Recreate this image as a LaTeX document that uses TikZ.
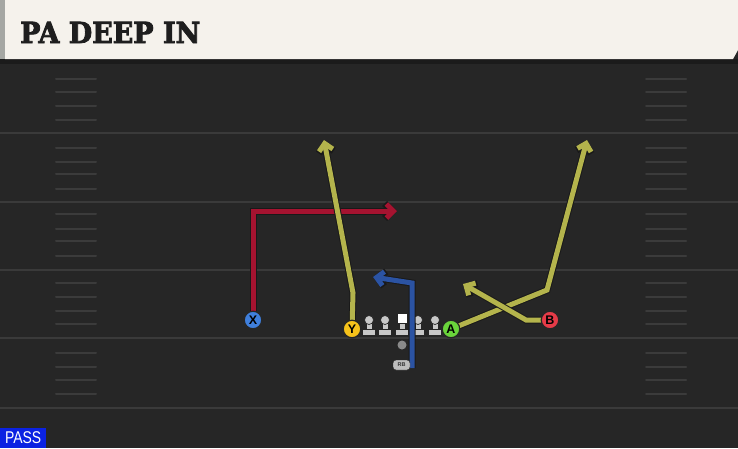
\documentclass[tikz,border=0pt]{standalone}
\usepackage{fontspec}
\usetikzlibrary{arrows.meta}
\newfontfamily\titlefont{DejaVu Serif}[BoldFeatures={FakeBold=3}]
\newfontfamily\labelfont{Liberation Sans}
\definecolor{fieldbg}{HTML}{262626}
\definecolor{yardc}{HTML}{3A3A3A}
\definecolor{hashc}{HTML}{3B3B3B}
\definecolor{cream}{HTML}{F5F2EC}
\definecolor{headgray}{HTML}{A5A7A3}
\definecolor{shadowc}{HTML}{1B1B1B}
\definecolor{titlec}{HTML}{1E1E1E}
\definecolor{passblue}{HTML}{0B22E2}
\definecolor{redr}{HTML}{A51330}
\definecolor{yelr}{HTML}{B4B44C}
\definecolor{bluer}{HTML}{2B53A3}
\definecolor{xblue}{HTML}{3F7FDC}
\definecolor{yyel}{HTML}{F6C21A}
\definecolor{agreen}{HTML}{6AD43B}
\definecolor{bred}{HTML}{E63B48}
\definecolor{lmgray}{HTML}{C8C8C8}
\definecolor{qbgray}{HTML}{8A8A8A}
\definecolor{rbgray}{HTML}{BDBDBD}
\pgfdeclarelayer{bg}
\pgfsetlayers{bg,main}
\begin{document}
\begin{tikzpicture}[x=1pt,y=-1pt,
  player/.style={circle, draw=black!85, line width=1.2pt, minimum size=17.5pt, inner sep=0pt,
    font=\labelfont\bfseries\fontsize{12.5}{12.5}\selectfont, text=black},
  route/.style={draw=#1, line width=5pt, -{Straight Barb[length=7pt,width=14pt]},
    preaction={draw=black!90, line width=7pt, -{Straight Barb[length=7.4pt,width=15pt]}}},
  yard/.style={draw=yardc, line width=2.5pt},
  hash/.style={draw=hashc, line width=2pt, line cap=round},
  lmpart/.style={draw=black!85, fill=lmgray, line width=0.7pt},
  lman/.pic={
    \filldraw[lmpart] (-3,-4) rectangle (3,-12);
    \filldraw[lmpart] (-6.5,0) rectangle (6.5,-6);
    \filldraw[lmpart] (0,-15) circle (4.5);
  },
  lmcenter/.pic={
    \filldraw[lmpart] (-3,-4) rectangle (3,-12);
    \filldraw[lmpart] (-6.5,0) rectangle (6.5,-6);
    \filldraw[draw=black!85, fill=white, line width=0.7pt] (-5,-11.5) rectangle (5,-21.5);
  }
]
\useasboundingbox (0,0) rectangle (738,448);
\begin{pgfonlayer}{bg}
\fill[fieldbg] (0,0) rectangle (738,448);
\fill[shadowc] (0,59) rectangle (738,64);
\foreach \y in {133,202,270,338,408} \draw[yard] (0,\y) -- (738,\y);
\foreach \y in {79,92,106,120,148,162,174,189,214,229,241,256,283,297,311,324,353,367,380,394}
  {\draw[hash] (56,\y) -- (96,\y); \draw[hash] (646,\y) -- (686,\y);}
\foreach \x in {369,385,418,435} \pic at (\x,335) {lman};
\pic at (402,335) {lmcenter};
\end{pgfonlayer}
% header
\fill[headgray] (0,0) rectangle (5,59);
\fill[cream] (5,0) -- (738,0) -- (738,50) -- (733,59) -- (5,59) -- cycle;
\node[anchor=base west, inner sep=0pt, text=titlec, font=\titlefont\bfseries\fontsize{29}{29}\selectfont]
  (title) at (20,43) {\scalebox{0.93}[1]{PA DEEP IN}};
\node[fill=passblue, text=white, anchor=south west, minimum width=46pt, minimum height=20pt,
  inner sep=0pt, font=\labelfont\fontsize{17}{17}\selectfont] (pass) at (0,448) {\scalebox{0.82}[1]{PASS}};
% players
\node[player, fill=xblue] (X) at (253,320) {X};
\node[player, fill=yyel] (Y) at (352,329) {Y};
\node[player, fill=agreen] (A) at (451,329) {A};
\node[player, fill=bred] (B) at (550,320) {B};
\node[circle, fill=qbgray, minimum size=9pt, inner sep=0pt] (QB) at (402,345) {};
\node[rounded corners=3pt, draw=black!85, fill=rbgray, minimum width=17pt, minimum height=10pt,
  inner sep=0pt, font=\labelfont\bfseries\fontsize{5.5}{5.5}\selectfont, text=black!80] (RB) at (401.5,365) {RB};
% route points
\coordinate (xc) at (253,211); \coordinate (xtip) at (397,211);
\coordinate (yc) at (353,293); \coordinate (ytip) at (324,140);
\coordinate (ac) at (547,290); \coordinate (atip) at (587,140);
\coordinate (bc) at (526,320); \coordinate (btip) at (463,284);
\coordinate (rs) at (412,368); \coordinate (rc) at (412,283); \coordinate (rtip) at (373,277);
\begin{pgfonlayer}{bg}
\draw[route=redr] (X.center) -- (xc) -- (xtip);
\draw[route=yelr] (Y.center) -- (yc) -- (ytip);
\draw[route=yelr] (A.center) -- (ac) -- (atip);
\draw[route=yelr] (B.center) -- (bc) -- (btip);
\draw[route=bluer] (rs) -- (rc) -- (rtip);
\end{pgfonlayer}
\end{tikzpicture}
\end{document}
